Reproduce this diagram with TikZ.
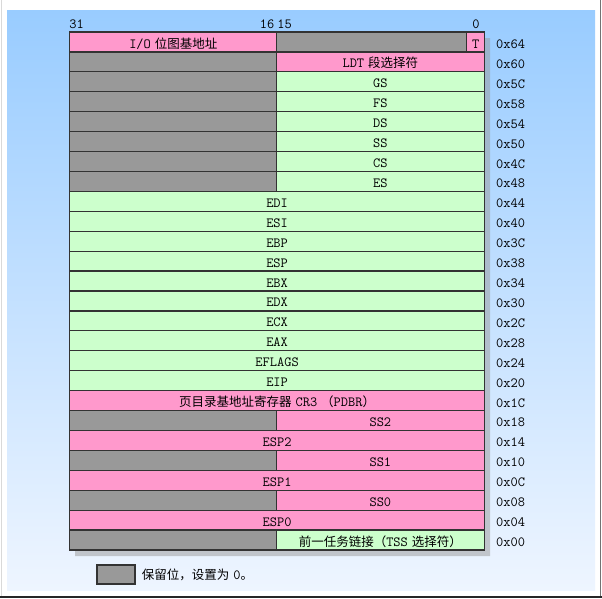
\documentclass[tikz,border=0pt]{standalone}
\usepackage{fontspec}
\newfontfamily\cjk{Noto Sans CJK SC}
\newcommand\zh[1]{{\cjk\fontsize{12.5}{14}\selectfont #1}}
\usetikzlibrary{positioning}
\definecolor{regpink}{HTML}{FF99CC}
\definecolor{reggreen}{HTML}{CCFFCC}
\definecolor{resgray}{HTML}{999999}
\definecolor{panetop}{HTML}{99CCFF}
\definecolor{panebot}{HTML}{EEF5FF}

\begin{document}
\begin{tikzpicture}[x=1pt, y=-1pt, font=\fontsize{14}{16}\selectfont\ttfamily,
  cell/.style={draw=black!80, line width=1.2pt, anchor=west, inner sep=0pt,
    minimum height=19.92pt, text height=12pt, text depth=0pt},
  full/.style={cell, minimum width=415pt},
  half/.style={cell, minimum width=207.5pt},
  res/.style={half, fill=resgray},
  offs/.style={anchor=base west, inner sep=0pt},
  bit/.style={anchor=base, inner sep=0pt}]
\def\rh{19.92}
% page and panel
\useasboundingbox (0,0) rectangle (602,598);
\fill[white] (0,0) rectangle (602,598);
\shade[top color=panetop, bottom color=panebot] (7,10) rectangle (595,590);
\draw[black!15] (1.5,0) -- (1.5,598);
\draw[black!55, line width=1.5pt] (600.5,0) -- (600.5,598);
\draw[black!85, line width=1.5pt] (0,597) -- (602,597);
% shadow of the table
\fill[black!40, opacity=0.5] (484,38) rectangle (490,556) (75,551) rectangle (484,556);
% bit numbers
\node[bit] (b31) at (76.5,28) {31};
\node[bit] (b16) at (267,28) {16};
\node[bit] (b15) at (284.5,28) {15};
\node[bit] (b0) at (476,28) {0};
% 0x64, 0x60
\node[half, fill=regpink] (iomap) at (69,42) {I/O\hspace{4pt}\zh{位图基地址}};
\node[cell, fill=resgray, minimum width=190pt] (res0) at (276,42) {};
\node[cell, fill=regpink, minimum width=18pt] (tflag) at (466,42) {T};
\node[res] (res1) at (69,{42+\rh}) {};
\node[half, fill=regpink] (ldt) at (276,{42+\rh}) {LDT\hspace{4pt}\zh{段选择符}};
% segment selectors
\foreach \i/\t in {2/GS,3/FS,4/DS,5/SS,6/CS,7/ES} {
  \node[res] (res\i) at (69,{42+\i*\rh}) {};
  \node[half, fill=reggreen] (seg\i) at (276,{42+\i*\rh}) {\t};
}
% general registers
\foreach \i/\t in {8/EDI,9/ESI,10/EBP,11/ESP,12/EBX,13/EDX,14/ECX,15/EAX,16/EFLAGS,17/EIP}
  \node[full, fill=reggreen] (gp\i) at (69,{42+\i*\rh}) {\t};
\node[full, fill=regpink] (cr3) at (69,{42+18*\rh})
  {\zh{页目录基地址寄存器}\hspace{4pt}CR3\hspace{4pt}\zh{（}PDBR\zh{）}};
% privilege level stacks
\foreach \i/\n in {19/2,21/1,23/0} {
  \node[res] (res\i) at (69,{42+\i*\rh}) {};
  \node[half, fill=regpink] (ss\n) at (276,{42+\i*\rh}) {SS\n};
  \node[full, fill=regpink] (esp\n) at (69,{42+(\i+1)*\rh}) {ESP\n};
}
\node[res] (res25) at (69,{42+25*\rh}) {};
\node[half, fill=reggreen] (link) at (276,{42+25*\rh}) {\zh{前一任务链接（}TSS\hspace{4pt}\zh{选择符）}};
% offsets
\foreach \o [count=\i from 0] in {64,60,5C,58,54,50,4C,48,44,40,3C,38,34,30,2C,28,24,20,1C,18,14,10,0C,08,04,00}
  \node[offs] (off\o) at (496,{48.5+\i*\rh}) {0x\o};
% legend
\node[draw=black!80, line width=1.2pt, fill=resgray, minimum width=38pt, minimum height=19pt,
  inner sep=0pt] (legbox) at (116,574.5) {};
\node[right=6pt of legbox, inner sep=0pt] (legtext) {\zh{保留位，设置为}\hspace{4pt}0\zh{。}};
\end{tikzpicture}
\end{document}
